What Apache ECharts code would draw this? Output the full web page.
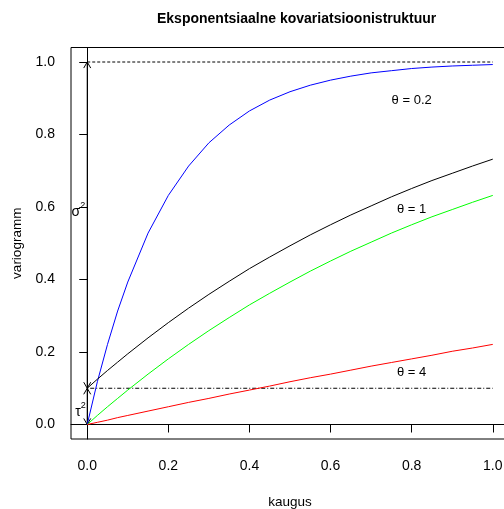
<!DOCTYPE html>
<html>
<head>
<meta charset="utf-8">
<script src="https://cdn.jsdelivr.net/npm/echarts@6/dist/echarts.min.js"></script>
<style>
  html, body { margin: 0; padding: 0; background: #fff; }
  #chart { width: 504px; height: 509px; }
</style>
</head>
<body>
<div id="chart"></div>
<script>
// distance (kaugus) and variogram values
const distance = [0, 0.025, 0.05, 0.075, 0.1, 0.15, 0.2, 0.25, 0.3, 0.35, 0.4, 0.45, 0.5,
  0.55, 0.6, 0.65, 0.7, 0.75, 0.8, 0.85, 0.9, 0.95, 1.0]
const theta02 = [0, 0.118, 0.221, 0.313, 0.393, 0.528, 0.632, 0.713, 0.777, 0.826, 0.865, 0.895,
  0.918, 0.936, 0.950, 0.961, 0.970, 0.976, 0.982, 0.986, 0.989, 0.991, 0.993]
const theta1Nugget = [0.1, 0.125, 0.149, 0.172, 0.195, 0.239, 0.281, 0.321, 0.359, 0.395, 0.430,
  0.462, 0.493, 0.523, 0.551, 0.578, 0.603, 0.628, 0.651, 0.673, 0.693, 0.713, 0.732]
const theta1 = [0, 0.025, 0.049, 0.072, 0.095, 0.139, 0.181, 0.221, 0.259, 0.295, 0.330, 0.362,
  0.393, 0.423, 0.451, 0.478, 0.503, 0.528, 0.551, 0.573, 0.593, 0.613, 0.632]
const theta4 = [0, 0.006, 0.012, 0.019, 0.025, 0.037, 0.049, 0.061, 0.072, 0.084, 0.095, 0.106,
  0.118, 0.129, 0.139, 0.150, 0.161, 0.171, 0.181, 0.191, 0.202, 0.211, 0.221]

const ticks = [0, 0.2, 0.4, 0.6, 0.8, 1.0]
const tickLabels = ['0.0', '0.2', '0.4', '0.6', '0.8', '1.0']

// sill / nugget reference levels
const sill = 1.0
const nugget = 0.1
const refX = [0, 1]

// double arrows: [x, from, to]
const arrows = [[0, nugget, sill], [0, 0, nugget]]
// text notes: [x, y, text, size]
const notes = [
  [0.80, 0.894, 'θ = 0.2', 13],
  [0.80, 0.593, 'θ = 1', 13],
  [0.80, 0.143, 'θ = 4', 13],
  [-0.028, 0.585, 'σ', 14],
  [-0.011, 0.603, '2', 9],
  [-0.023, 0.033, 'τ', 14],
  [-0.010, 0.052, '2', 9]
]

const font = 'Liberation Sans, Arial, Helvetica, sans-serif'
const pair = (xs, ys) => xs.map((x, i) => [x, ys[i]])
const fmt = v => {
  const i = ticks.findIndex(t => Math.abs(t - v) < 1e-9)
  return i < 0 ? '' : tickLabels[i]
}

const chart = echarts.init(document.getElementById('chart'), null, { renderer: 'canvas' })

function curve(name, ys, color) {
  return {
    name,
    type: 'line',
    data: pair(distance, ys),
    symbol: 'none',
    lineStyle: { color, width: 1 },
    silent: true,
    animation: false
  }
}

function refLine(level, dash) {
  return {
    type: 'line',
    data: refX.map(x => [x, level]),
    symbol: 'none',
    lineStyle: { color: '#000', width: 1, type: dash },
    silent: true,
    animation: false
  }
}

const option = {
  animation: false,
  title: {
    text: 'Eksponentsiaalne kovariatsioonistruktuur',
    left: 152,
    top: 7,
    textStyle: { fontFamily: font, fontSize: 14, fontWeight: 'bold', color: '#000' }
  },
  grid: {
    left: 71,
    top: 47.5,
    width: 438,
    height: 391.5,
    outerBoundsMode: 'none',
    containLabel: false,
    show: true,
    borderColor: '#000',
    borderWidth: 1
  },
  xAxis: {
    type: 'value',
    min: -0.04,
    max: 1.04,
    name: 'kaugus',
    nameLocation: 'middle',
    nameGap: 56,
    nameTextStyle: { fontFamily: font, fontSize: 13.5, color: '#000' },
    splitLine: { show: false },
    axisLine: { show: true, lineStyle: { color: '#000' } },
    axisTick: { show: true, customValues: ticks, length: 8, lineStyle: { color: '#000' } },
    axisLabel: { customValues: ticks, formatter: fmt, margin: 20, fontFamily: font, fontSize: 14, color: '#000' }
  },
  yAxis: {
    type: 'value',
    min: -0.04,
    max: 1.04,
    name: 'variogramm',
    nameLocation: 'middle',
    nameGap: 46,
    nameTextStyle: { fontFamily: font, fontSize: 13.5, color: '#000' },
    splitLine: { show: false },
    axisLine: { show: true, lineStyle: { color: '#000' } },
    axisTick: { show: true, customValues: ticks, length: 8, lineStyle: { color: '#000' } },
    axisLabel: { customValues: ticks, formatter: fmt, margin: 16, fontFamily: font, fontSize: 14, color: '#000' }
  },
  series: [
    refLine(sill, [3, 2]),
    refLine(nugget, [1, 2, 4, 2]),
    curve('θ = 0.2', theta02, '#0000ff'),
    curve('θ = 1 (nugget)', theta1Nugget, '#000000'),
    curve('θ = 1', theta1, '#00ff00'),
    curve('θ = 4', theta4, '#ff0000'),
    {
      type: 'custom',
      data: arrows,
      silent: true,
      renderItem(params, api) {
        const p0 = api.coord([api.value(0), api.value(1)])
        const p1 = api.coord([api.value(0), api.value(2)])
        const len = 7
        const dx = len * Math.sin(Math.PI / 6)
        const dy = len * Math.cos(Math.PI / 6)
        const style = { stroke: '#000', lineWidth: 1, fill: null }
        return {
          type: 'group',
          children: [
            { type: 'line', shape: { x1: p0[0], y1: p0[1], x2: p1[0], y2: p1[1] }, style },
            { type: 'polyline', shape: { points: [[p1[0] - dx, p1[1] + dy], p1, [p1[0] + dx, p1[1] + dy]] }, style },
            { type: 'polyline', shape: { points: [[p0[0] - dx, p0[1] - dy], p0, [p0[0] + dx, p0[1] - dy]] }, style }
          ]
        }
      }
    },
    {
      type: 'custom',
      data: notes,
      silent: true,
      renderItem(params, api) {
        const note = notes[params.dataIndex]
        const p = api.coord([note[0], note[1]])
        return {
          type: 'text',
          x: p[0],
          y: p[1],
          style: {
            text: note[2],
            fontFamily: font,
            fontSize: note[3],
            fill: '#000',
            align: 'center',
            verticalAlign: 'middle'
          }
        }
      }
    }
  ]
}

chart.setOption(option)
</script>
</body>
</html>
